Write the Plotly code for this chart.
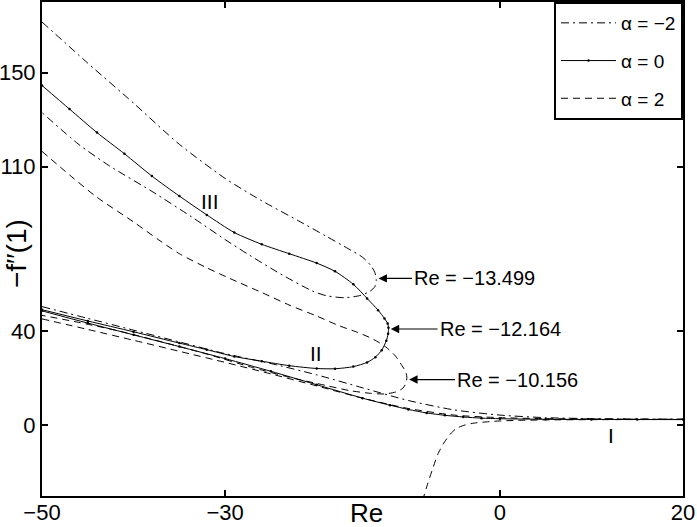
import plotly.graph_objects as go

# ---------------- data ----------------
# alpha = -2 (dash-dot)
re_m2_I = [-50, -45, -40, -35, -30, -25, -20, -15, -10, -5, 0, 5, 10, 15, 20]
f_m2_I = [50.5, 45.5, 40.5, 35.5, 30.5, 26.3, 21.5, 16.0, 10.6, 6.6, 4.4, 3.3, 2.9, 2.75, 2.7]
re_m2_fold = [-50, -45, -40, -35, -30, -26, -22, -19, -16.5, -15, -14.1, -13.65, -13.499,
              -13.65, -14.2, -15.3, -17, -19, -20.5, -24, -27.6, -30, -33.6, -38, -42.7, -46, -50]
f_m2_fold = [171.5, 154, 137, 119.5, 105, 95.5, 87, 80.5, 75, 71.5, 68, 65, 62,
             59, 57, 55.2, 54.3, 55.2, 57.2, 64.5, 73, 79, 88.5, 99.5, 110.5, 119.5, 133]

# alpha = 0 (solid)
re_0_I = [-50, -45, -40, -35, -30, -25, -20, -15, -12, -10, -8, -6, -4, -2, 0, 5, 10, 15, 20]
f_0_I = [48.7, 43.5, 38.5, 33.5, 28.4, 23.0, 17.3, 11.6, 8.6, 6.8, 5.3, 4.3, 3.6, 3.1, 2.85, 2.6, 2.55, 2.5, 2.5]
re_0_fold = [-50, -47, -44, -41, -38, -35, -32, -29, -26, -23, -20, -18, -16, -14.5, -13.3, -12.6, -12.25, -12.164,
             -12.2, -12.4, -12.9, -13.6, -14.5, -16, -18, -20, -23, -26, -29, -32, -35, -40, -45, -50]
f_0_fold = [144.5, 134.5, 124.5, 115.5, 106, 97.5, 89.5, 82, 77, 73, 69, 65.5, 60, 54, 49, 45.5, 43.3, 41.5,
            39, 36, 32, 29, 26.8, 25, 24.1, 24.2, 25.4, 27.3, 29.3, 32.2, 35.0, 39.8, 44.4, 49.2]

# alpha = 2 (dashed)
re_2_I = [-50, -45, -40, -35, -30, -25, -20, -15, -10, -5, 0, 5, 10, 15, 20]
f_2_I = [45.3, 40.8, 36.2, 31.5, 26.8, 21.9, 16.8, 11.6, 7.2, 4.4, 3.3, 2.9, 2.75, 2.65, 2.6]
re_2_fold = [-50, -47, -44, -40, -37.3, -35, -32, -29.5, -26, -22.9, -20, -17.5, -15.5, -13.9, -12.5, -11.4, -10.7,
             -10.3, -10.156,
             -10.25, -10.6, -11.3, -12.5, -14, -16.4, -19, -22.9, -27, -32.5, -37, -42, -46, -50]
f_2_fold = [116.5, 106.5, 97, 86.5, 79, 73, 67, 62.5, 56.5, 51, 46.5, 42.3, 39.5, 36.8, 33.5, 29.5, 25.5,
            23, 20.5,
            18, 15.8, 14.3, 13.4, 13.6, 14.8, 17, 20.4, 24.6, 30.9, 35.6, 40.5, 43.8, 46.8]
re_2_low = [-8.45, -7.9, -7.3, -6.8, -6.2, -5.4, -4.7, -3.8, -2.8, -1.5, 0, 2, 5, 10, 15, 20]
f_2_low = [-32, -25, -18, -12.5, -8, -3.6, -1.2, 0.2, 1.0, 1.5, 1.9, 2.15, 2.35, 2.45, 2.5, 2.5]

x_ticks = [-50, -30, 0, 20]
y_ticks = [0, 40, 110, 150]

turn_labels = ["Re = −13.499", "Re = −12.164", "Re = −10.156"]
turn_re = [-13.499, -12.164, -10.156]
turn_f = [62.5, 41.0, 19.5]
label_re = [-9.6, -6.8, -4.9]

FONT = "Liberation Sans, Arial, Helvetica, sans-serif"
DASHDOT = "8px,4px,2px,4px"
DASHED = "7px,5px"

fig = go.Figure()

def add(x, y, name, dash, group, show, markers=False):
    fig.add_trace(go.Scatter(
        x=x, y=y, name=name, legendgroup=group, showlegend=show,
        mode="lines+markers" if markers else "lines",
        line=dict(color="black", width=1, dash=dash, shape="spline", smoothing=0.7),
        marker=dict(size=2.5, color="black"),
    ))

add(re_m2_fold, f_m2_fold, "α = −2", DASHDOT, "a", True)
add(re_m2_I, f_m2_I, "α = −2", DASHDOT, "a", False)
add(re_0_fold, f_0_fold, "α = 0", "solid", "b", True, markers=True)
add(re_0_I, f_0_I, "α = 0", "solid", "b", False, markers=True)
add(re_2_fold, f_2_fold, "α = 2", DASHED, "c", True)
add(re_2_I, f_2_I, "α = 2", DASHED, "c", False)
add(re_2_low, f_2_low, "α = 2", DASHED, "c", False)

annotations = []
for t, xr, yr, lx in zip(turn_labels, turn_re, turn_f, label_re):
    annotations.append(dict(
        x=xr + 0.25, y=yr, xref="x", yref="y", ax=lx, ay=yr, axref="x", ayref="y",
        text=t, showarrow=True, arrowhead=2, arrowsize=1.4, arrowwidth=1.2,
        arrowcolor="black", xanchor="left", yanchor="middle",
        font=dict(size=20, color="black", family=FONT)))

for t, xr, yr in [("III", -31.6, 95), ("II", -20.1, 30.4), ("I", 12.1, -4.3)]:
    annotations.append(dict(x=xr, y=yr, xref="x", yref="y", text=t, showarrow=False,
                            font=dict(size=21, color="black", family=FONT)))

annotations.append(dict(x=-14.6, xref="x", y=0.0, yref="paper", yanchor="top", xanchor="center",
                        text="Re", showarrow=False, font=dict(size=26, color="black", family=FONT)))
annotations.append(dict(x=-0.04, xref="paper", y=73, yref="y", xanchor="center", yanchor="middle",
                        text="−f′′(1)", textangle=-90,
                        showarrow=False, font=dict(size=28, color="black", family=FONT)))

fig.update_layout(
    width=697, height=527,
    margin=dict(l=42, r=14, t=2, b=31, autoexpand=False),
    paper_bgcolor="white", plot_bgcolor="white",
    font=dict(family=FONT, color="black", size=22),
    showlegend=True,
    legend=dict(x=1, y=1, xanchor="right", yanchor="top",
                bgcolor="white", bordercolor="black", borderwidth=2,
                font=dict(size=19, family=FONT), tracegroupgap=10,
                itemwidth=55),
    annotations=annotations,
)
fig.update_xaxes(range=[-50, 20], tickvals=x_ticks, ticktext=["−50", "−30", "0", "20"],
                 showline=True, linecolor="black", linewidth=2, mirror="ticks",
                 ticks="inside", ticklen=6, tickwidth=1.5, tickcolor="black",
                 showgrid=False, zeroline=False, tickfont=dict(size=22), automargin=False,
                 ticklabelstandoff=-4)
fig.update_yaxes(range=[-30, 180], tickvals=y_ticks, ticktext=["0", "40", "110", "150"],
                 showline=True, linecolor="black", linewidth=2, mirror="ticks",
                 ticks="inside", ticklen=6, tickwidth=1.5, tickcolor="black",
                 showgrid=False, zeroline=False, tickfont=dict(size=22), automargin=False)

fig.write_html("out.html", config={"displayModeBar": False},
               post_script="document.body.style.margin='0';document.body.style.padding='0';")
